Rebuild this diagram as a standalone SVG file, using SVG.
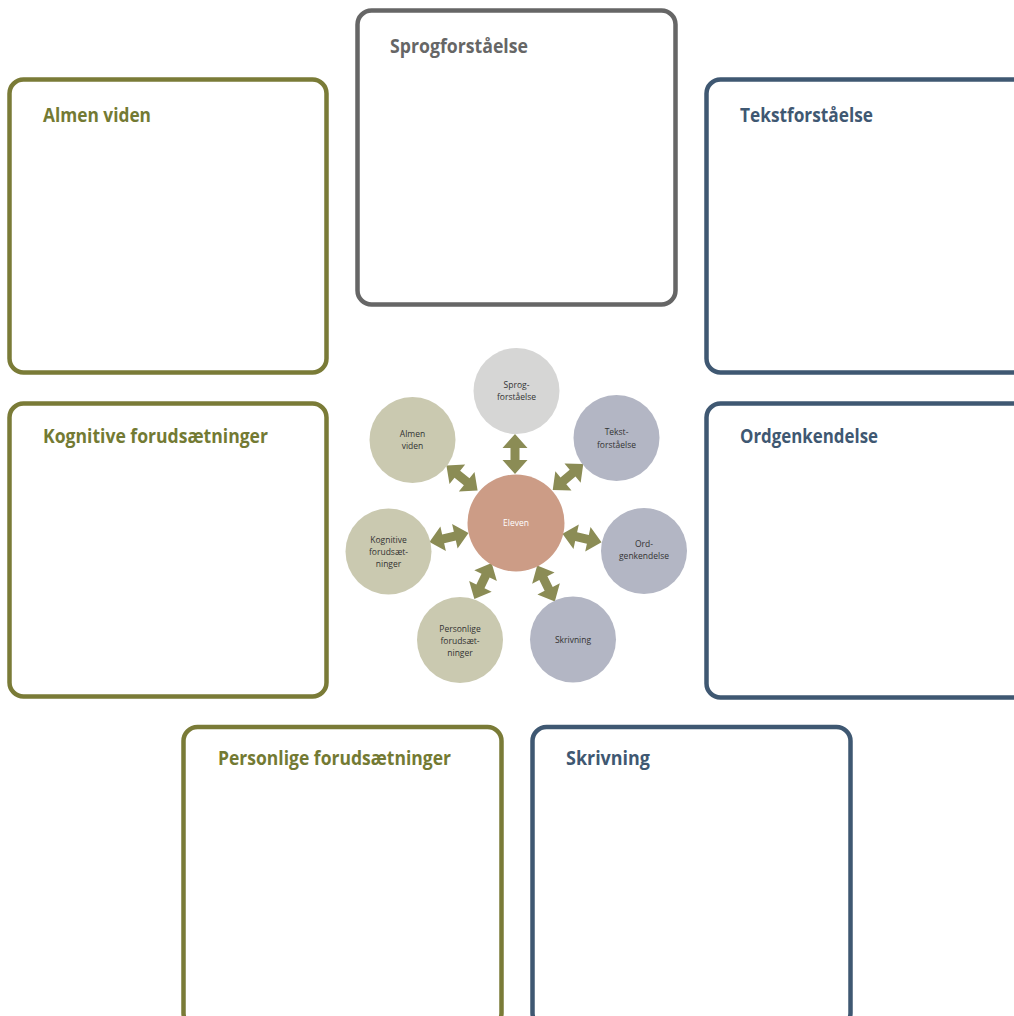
<svg xmlns="http://www.w3.org/2000/svg" width="1014" height="1016" viewBox="0 0 1014 1016">
<style>
.box{fill:#fff;stroke-width:4.5}
.ol{stroke:#7a7b37}
.gr{stroke:#666666}
.nv{stroke:#3f5872}
.title{font-family:"Open Sans","Liberation Sans",sans-serif;font-weight:bold;font-size:19px}
.tol{fill:#737a33}
.tgr{fill:#666666}
.tnv{fill:#3f5872}
.ct{font-family:"Open Sans","Liberation Sans",sans-serif;font-size:8.5px;fill:#333333;text-anchor:middle}
.arrow{fill:#8b8c55}
</style>
<defs>
<polygon id="dbl" points="-20,0 -6,-12.5 -6,-4.5 6,-4.5 6,-12.5 20,0 6,12.5 6,4.5 -6,4.5 -6,12.5"/>
</defs>
<rect width="1014" height="1016" fill="#ffffff"/>
<g id="box-almen"><rect class="box ol" x="9.5" y="79.5" width="317" height="293" rx="14"/><text class="title tol" x="43" y="122" textLength="108" lengthAdjust="spacingAndGlyphs">Almen viden</text></g>
<g id="box-sprog"><rect class="box gr" x="357.5" y="10.5" width="318" height="294" rx="14"/><text class="title tgr" x="390" y="53" textLength="138" lengthAdjust="spacingAndGlyphs">Sprogforståelse</text></g>
<g id="box-tekst"><rect class="box nv" x="706.5" y="79.5" width="330" height="293" rx="14"/><text class="title tnv" x="740" y="122" textLength="133" lengthAdjust="spacingAndGlyphs">Tekstforståelse</text></g>
<g id="box-kognitive"><rect class="box ol" x="9.5" y="403.5" width="317" height="293" rx="14"/><text class="title tol" x="43" y="443" textLength="225" lengthAdjust="spacingAndGlyphs">Kognitive forudsætninger</text></g>
<g id="box-ord"><rect class="box nv" x="706.5" y="403.5" width="330" height="294" rx="14"/><text class="title tnv" x="740" y="443" textLength="138" lengthAdjust="spacingAndGlyphs">Ordgenkendelse</text></g>
<g id="box-personlige"><rect class="box ol" x="183.5" y="727" width="318" height="300" rx="14"/><text class="title tol" x="218" y="765" textLength="233" lengthAdjust="spacingAndGlyphs">Personlige forudsætninger</text></g>
<g id="box-skrivning"><rect class="box nv" x="532.5" y="727" width="318" height="300" rx="14"/><text class="title tnv" x="566" y="765" textLength="84" lengthAdjust="spacingAndGlyphs">Skrivning</text></g>

<g id="connectors">
<use href="#dbl" class="arrow" transform="translate(515,454) rotate(90)"/>
<use href="#dbl" class="arrow" transform="translate(568,477) rotate(-40.2)"/>
<use href="#dbl" class="arrow" transform="translate(462,478) rotate(38.8)"/>
<use href="#dbl" class="arrow" transform="translate(449,537.5) rotate(-12.7)"/>
<use href="#dbl" class="arrow" transform="translate(582,538) rotate(12.3)"/>
<use href="#dbl" class="arrow" transform="translate(483,581) rotate(-64.4)"/>
<use href="#dbl" class="arrow" transform="translate(546,583.5) rotate(63.8)"/>
</g>

<g id="c-sprog"><circle cx="516.5" cy="391" r="43" fill="#d6d6d5"/><text class="ct" x="516.5" y="388">Sprog-</text><text class="ct" x="516.5" y="400">forståelse</text></g>
<g id="c-tekst"><circle cx="616.5" cy="438" r="43" fill="#b3b6c4"/><text class="ct" x="616.5" y="435">Tekst-</text><text class="ct" x="616.5" y="448">forståelse</text></g>
<g id="c-almen"><circle cx="412.5" cy="440" r="43" fill="#cac9b0"/><text class="ct" x="412.5" y="436.5">Almen</text><text class="ct" x="412.5" y="449">viden</text></g>
<g id="c-eleven"><circle cx="516" cy="523" r="48.5" fill="#cc9c86"/><text class="ct" x="516" y="526" fill="#ffffff" style="fill:#ffffff">Eleven</text></g>
<g id="c-kognitive"><circle cx="388.5" cy="551.5" r="43" fill="#cac9b0"/><text class="ct" x="388.5" y="543">Kognitive</text><text class="ct" x="388.5" y="555">forudsæt-</text><text class="ct" x="388.5" y="567">ninger</text></g>
<g id="c-ord"><circle cx="644" cy="551" r="43" fill="#b3b6c4"/><text class="ct" x="644" y="547">Ord-</text><text class="ct" x="644" y="559">genkendelse</text></g>
<g id="c-personlige"><circle cx="460" cy="640" r="43" fill="#cac9b0"/><text class="ct" x="460" y="632">Personlige</text><text class="ct" x="460" y="644">forudsæt-</text><text class="ct" x="460" y="656">ninger</text></g>
<g id="c-skrivning"><circle cx="573" cy="639.5" r="43" fill="#b3b6c4"/><text class="ct" x="573" y="642.5">Skrivning</text></g>
</svg>
